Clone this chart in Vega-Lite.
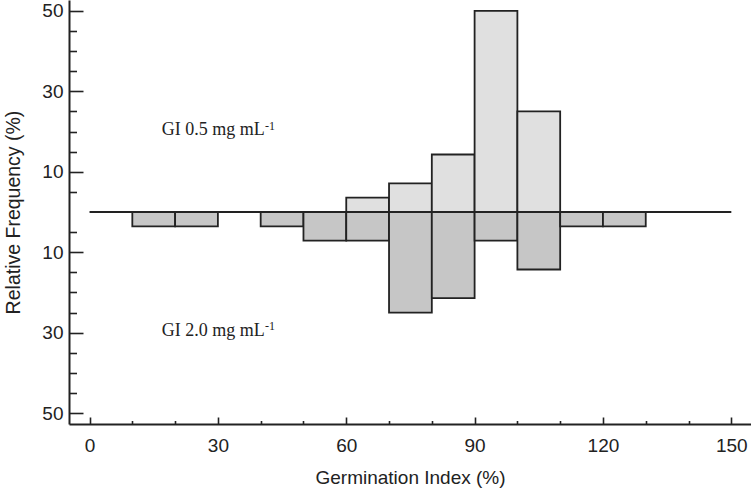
{
  "$schema": "https://vega.github.io/schema/vega-lite/v6.json",
  "width": 682,
  "height": 424,
  "autosize": "none",
  "padding": {"left": 69, "top": 0, "right": 0, "bottom": 65},
  "background": "white",
  "config": {
    "view": {"stroke": null},
    "axis": {"grid": false, "domainColor": "#222222", "domainWidth": 2, "tickColor": "#222222", "tickWidth": 1.6, "labelColor": "#222222", "titleColor": "#222222", "labelFont": "Liberation Sans", "titleFont": "Liberation Sans", "titleFontWeight": "normal"}
  },
  "data": {
    "values": [
      {"series": "GI 0.5", "from": 60, "to": 70, "freq": 3.57},
      {"series": "GI 0.5", "from": 70, "to": 80, "freq": 7.14},
      {"series": "GI 0.5", "from": 80, "to": 90, "freq": 14.29},
      {"series": "GI 0.5", "from": 90, "to": 100, "freq": 50},
      {"series": "GI 0.5", "from": 100, "to": 110, "freq": 25},
      {"series": "GI 2.0", "from": 10, "to": 20, "freq": -3.57},
      {"series": "GI 2.0", "from": 20, "to": 30, "freq": -3.57},
      {"series": "GI 2.0", "from": 40, "to": 50, "freq": -3.57},
      {"series": "GI 2.0", "from": 50, "to": 60, "freq": -7.14},
      {"series": "GI 2.0", "from": 60, "to": 70, "freq": -7.14},
      {"series": "GI 2.0", "from": 70, "to": 80, "freq": -25},
      {"series": "GI 2.0", "from": 80, "to": 90, "freq": -21.43},
      {"series": "GI 2.0", "from": 90, "to": 100, "freq": -7.14},
      {"series": "GI 2.0", "from": 100, "to": 110, "freq": -14.29},
      {"series": "GI 2.0", "from": 110, "to": 120, "freq": -3.57},
      {"series": "GI 2.0", "from": 120, "to": 130, "freq": -3.57}
    ]
  },
  "resolve": {"axis": {"x": "independent", "y": "independent"}},
  "layer": [
    {
      "mark": {"type": "bar", "stroke": "#222222", "strokeWidth": 1.8, "cornerRadius": 0},
      "encoding": {
        "x": {"field": "from", "type": "quantitative",
          "scale": {"domain": [-4.8, 154.6], "nice": false, "zero": false},
          "axis": {"orient": "bottom", "values": [0, 30, 60, 90, 120, 150], "tickSize": -7, "labelPadding": 19.6, "labelFontSize": 19, "labelBaseline": "top", "title": "Germination Index (%)", "titleFontSize": 19, "titleBaseline": "alphabetic", "titleY": 59}},
        "x2": {"field": "to"},
        "y": {"field": "freq", "type": "quantitative",
          "scale": {"domain": [-52.7, 52.7], "nice": false, "zero": false},
          "axis": {"orient": "left", "values": [-50, -30, -10, 10, 30, 50], "labelExpr": "abs(datum.value)", "tickSize": -14, "labelPadding": 20, "labelFontSize": 19, "title": "Relative Frequency (%)", "titleFontSize": 19.5, "titleBaseline": "alphabetic", "titleX": -50}},
        "y2": {"datum": 0},
        "fill": {"field": "series", "type": "nominal", "scale": {"domain": ["GI 0.5", "GI 2.0"], "range": ["#e0e0e0", "#c6c6c6"]}, "legend": null}
      }
    },
    {
      "data": {"values": [{}]},
      "mark": {"type": "rule", "stroke": "#222222", "strokeWidth": 2},
      "encoding": {
        "x": {"datum": 0, "type": "quantitative",
          "scale": {"domain": [-4.8, 154.6], "nice": false, "zero": false},
          "axis": {"orient": "bottom", "values": [10, 20, 40, 50, 70, 80, 100, 110, 130, 140], "tickSize": -3.5, "labels": false, "domain": false, "title": null}},
        "x2": {"datum": 150},
        "y": {"datum": 0, "type": "quantitative",
          "scale": {"domain": [-52.7, 52.7], "nice": false, "zero": false},
          "axis": {"orient": "left", "values": [-45, -40, -35, -25, -20, -15, -5, 5, 15, 20, 25, 35, 40, 45], "tickSize": -7.5, "labels": false, "domain": false, "title": null}}
      }
    },
    {
      "data": {"values": [{}]},
      "mark": {"type": "text", "text": "GI 0.5 mg mL", "font": "Liberation Serif", "fontSize": 18, "align": "left", "baseline": "alphabetic", "color": "#222222"},
      "encoding": {
        "x": {"datum": 16.9, "type": "quantitative", "axis": null},
        "y": {"datum": 19.1, "type": "quantitative", "axis": null}
      }
    },
    {
      "data": {"values": [{}]},
      "mark": {"type": "text", "text": "-1", "font": "Liberation Serif", "fontSize": 12, "align": "left", "baseline": "alphabetic", "color": "#222222"},
      "encoding": {
        "x": {"datum": 41.0, "type": "quantitative", "axis": null},
        "y": {"datum": 20.4, "type": "quantitative", "axis": null}
      }
    },
    {
      "data": {"values": [{}]},
      "mark": {"type": "text", "text": "GI 2.0 mg mL", "font": "Liberation Serif", "fontSize": 18, "align": "left", "baseline": "alphabetic", "color": "#222222"},
      "encoding": {
        "x": {"datum": 16.9, "type": "quantitative", "axis": null},
        "y": {"datum": -30.8, "type": "quantitative", "axis": null}
      }
    },
    {
      "data": {"values": [{}]},
      "mark": {"type": "text", "text": "-1", "font": "Liberation Serif", "fontSize": 12, "align": "left", "baseline": "alphabetic", "color": "#222222"},
      "encoding": {
        "x": {"datum": 41.0, "type": "quantitative", "axis": null},
        "y": {"datum": -29.3, "type": "quantitative", "axis": null}
      }
    }
  ]
}
